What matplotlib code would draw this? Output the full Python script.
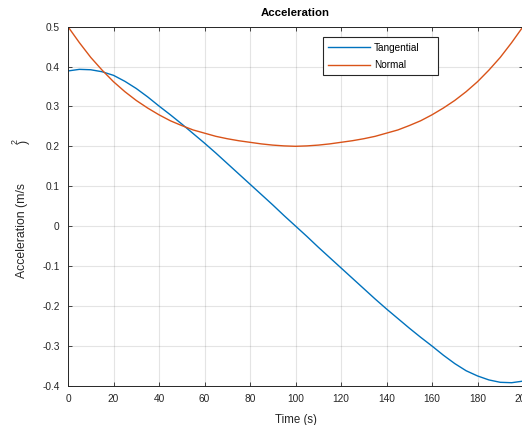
import matplotlib.pyplot as plt
from matplotlib.patches import Rectangle

# values
t = [0, 5, 10, 15, 20, 25, 30, 35, 40, 45, 50, 55, 60, 65, 70, 75, 80, 85, 90, 95, 100,
     105, 110, 115, 120, 125, 130, 135, 140, 145, 150, 155, 160, 165, 170, 175, 180, 185, 190, 195, 200]
tangential = [0.389, 0.393, 0.392, 0.387, 0.378, 0.363, 0.345, 0.324, 0.301, 0.279, 0.256,
              0.232, 0.208, 0.183, 0.157, 0.131, 0.105, 0.079, 0.053, 0.026, 0.000,
              -0.026, -0.053, -0.079, -0.105, -0.131, -0.157, -0.183, -0.208, -0.232, -0.256,
              -0.279, -0.301, -0.324, -0.345, -0.363, -0.376, -0.386, -0.392, -0.393, -0.389]
normal = [0.500, 0.460, 0.423, 0.391, 0.362, 0.337, 0.315, 0.296, 0.279, 0.264, 0.252,
          0.241, 0.233, 0.225, 0.219, 0.214, 0.210, 0.206, 0.203, 0.201, 0.200,
          0.201, 0.203, 0.206, 0.210, 0.214, 0.219, 0.225, 0.233, 0.241, 0.252,
          0.264, 0.279, 0.296, 0.315, 0.337, 0.362, 0.391, 0.423, 0.460, 0.500]

plt.rcParams['font.family'] = ['Liberation Sans', 'DejaVu Sans']

W, H = 522, 425
fig = plt.figure(figsize=(W / 100, H / 100), dpi=100)
ax = fig.add_axes([68 / W, 39.5 / H, 455 / W, 358.8 / H])

ax.plot(t, tangential, color='#0072BD', lw=1.0, label='Tangential')
ax.plot(t, normal, color='#D95319', lw=1.0, label='Normal')

ax.set_xlim(0, 200)
ax.set_ylim(-0.4, 0.5)
ax.set_xticks(range(0, 201, 20))
ax.set_yticks([-0.4, -0.3, -0.2, -0.1, 0, 0.1, 0.2, 0.3, 0.4, 0.5])
ax.set_yticklabels(['-0.4', '-0.3', '-0.2', '-0.1', '0', '0.1', '0.2', '0.3', '0.4', '0.5'])

ax.grid(True, color='0.15', alpha=0.12, lw=0.8)
ax.tick_params(direction='in', length=3.2, width=0.6, colors='0.15', labelsize=7.3,
               top=True, right=True, pad=6)
for s in ax.spines.values():
    s.set_color('0.15')
    s.set_linewidth(0.7)

ax.set_title('Acceleration', fontsize=8.2, fontweight='bold', pad=8)
ax.set_xlabel('Time (s)', fontsize=8.3, color='0.15', labelpad=7)

# MATLAB-style broken superscript in the y label
fig.text(22 / W, 1 - 231 / H, 'Acceleration (m/s', rotation=90, fontsize=8.8,
         color='0.15', ha='center', va='center')
fig.text(15 / W, 1 - 141 / H, '2', rotation=90, fontsize=6.4,
         color='0.15', ha='center', va='center')
fig.text(24 / W, 1 - 142 / H, ')', rotation=90, fontsize=8.8,
         color='0.15', ha='center', va='center')

leg = ax.legend(loc='upper left', bbox_to_anchor=(322.7 / W, 1 - 37.3 / H),
                bbox_transform=fig.transFigure, borderaxespad=0, fancybox=False,
                fontsize=7.2, handlelength=4.2, handletextpad=0.4,
                labelspacing=0.75, borderpad=0.55, frameon=False)
leg.set_zorder(6)
# MATLAB legends have a wider box than the entries need
ax.add_patch(Rectangle((322.7 / W, 1 - 74.5 / H), 115.6 / W, 37.2 / H,
                       transform=fig.transFigure, facecolor='white',
                       edgecolor='0.15', lw=0.8, zorder=5, clip_on=False))

fig.savefig('out.png', dpi=100)
